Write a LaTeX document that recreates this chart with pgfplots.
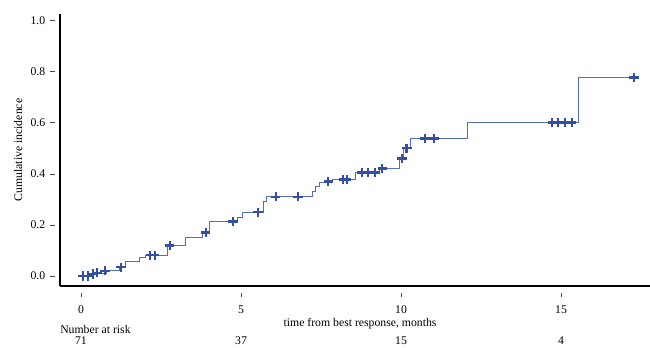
\documentclass[border=0pt]{standalone}
\usepackage{pgfplots}
\pgfplotsset{compat=1.18}
\usepackage{fontspec}
\setmainfont{Liberation Serif}
\definecolor{kmblue}{RGB}{52,78,160}
\definecolor{kmline}{RGB}{85,110,185}
\begin{document}
\begin{tikzpicture}[font=\fontsize{8.8}{10}\selectfont]
\useasboundingbox (-45pt,-45.75pt) rectangle (442.5pt,214.5pt);
\begin{axis}[
  scale only axis,
  width=442.5pt, height=204pt,
  at={(0,0)}, anchor=south west,
  xmin=-0.656, xmax=17.78,
  ymin=-0.039, ymax=1.025,
  axis x line=bottom, axis y line=left,
  axis line style={-, line width=1.6pt, black},
  xtick={0,5,10,15},
  ytick={0,0.2,0.4,0.6,0.8,1.0},
  yticklabel style={/pgf/number format/fixed, /pgf/number format/fixed zerofill, /pgf/number format/precision=1},
  /pgf/number format/assume math mode=true,
  tick align=outside,
  major tick length=3.5pt,
  xtick style={yshift=-5pt, line width=0.4pt, black!70},
  ytick style={xshift=-4pt, line width=0.4pt, black!70},
  xticklabel style={yshift=-8pt},
  yticklabel style={xshift=-4pt},
  ylabel={Cumulative incidence},
  ylabel style={at={(axis description cs:0,0.5)}, anchor=center, rotate=0, yshift=31.5pt},
  xlabel={time from best response, months},
  xlabel style={at={(axis cs:8.72,-0.039)}, anchor=center, yshift=-28pt},
  clip=false,
]
\addplot[const plot, color=kmline, line width=0.65pt] coordinates {
(0,0) (0.3,0.006) (0.5,0.012) (0.8,0.02) (1.2,0.035) (1.4,0.056) (1.84,0.074)
(2.0,0.082) (2.7,0.12) (3.25,0.15) (3.8,0.17) (4.0,0.214) (4.9,0.23) (5.06,0.25)
(5.69,0.29) (5.81,0.31) (7.22,0.33) (7.34,0.35) (7.44,0.365) (7.85,0.378)
(8.56,0.405) (9.34,0.42) (9.94,0.46) (10.06,0.50) (10.28,0.538) (12.09,0.60)
(15.53,0.776) (17.28,0.776)
};
\addplot[only marks, mark=+, mark size=3.4pt, color=kmblue, mark options={line width=1.9pt}] coordinates {
(0.06,0.0) (0.22,0.0) (0.38,0.008) (0.5,0.012) (0.75,0.02) (1.25,0.035)
(2.16,0.082) (2.31,0.082) (2.78,0.12) (3.9,0.17) (4.75,0.214) (5.53,0.25)
(6.09,0.31) (6.78,0.31) (7.72,0.37) (8.19,0.378) (8.31,0.378)
(8.78,0.405) (8.97,0.405) (9.19,0.405) (9.41,0.42) (10.03,0.46) (10.16,0.50)
(10.19,0.50) (10.75,0.538) (11.03,0.538) (14.72,0.60) (14.9,0.60) (15.12,0.60)
(15.34,0.60) (17.28,0.776)
};
\node[anchor=west, inner sep=0pt] at (axis cs:-0.656,-0.039) [yshift=-32.5pt] {Number at risk};
\node[inner sep=1pt] at (axis cs:0,-0.039) [yshift=-41pt] {71};
\node[inner sep=1pt] at (axis cs:5,-0.039) [yshift=-41pt] {37};
\node[inner sep=1pt] at (axis cs:10,-0.039) [yshift=-41pt] {15};
\node[inner sep=1pt] at (axis cs:15,-0.039) [yshift=-41pt] {4};
\end{axis}
\end{tikzpicture}
\end{document}
